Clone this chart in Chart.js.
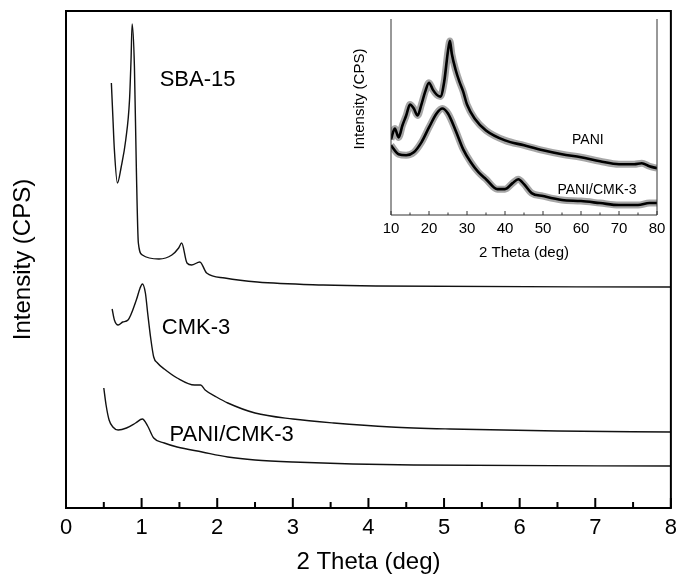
<!DOCTYPE html>
<html>
<head>
<meta charset="utf-8">
<script src="https://cdn.jsdelivr.net/npm/chart.js@4.4.1/dist/chart.umd.min.js"></script>
<style>
  html, body { margin: 0; padding: 0; background: #fff; }
  #wrap { position: relative; width: 684px; height: 574px; }
  #main { position: absolute; left: 0; top: 0; }
  #inset { position: absolute; left: 335px; top: 10px; }
</style>
</head>
<body>
<div id="wrap">
  <canvas id="main" width="684" height="574"></canvas>
  <canvas id="inset" width="340" height="250"></canvas>
</div>
<script>
// main plot: low angle XRD (2 theta, offset intensity)
const sbaX = [0.60, 0.62, 0.64, 0.68, 0.73, 0.79, 0.84, 0.86, 0.875, 0.905, 0.93, 0.957, 1.01, 1.23, 1.40, 1.49, 1.53, 1.60, 1.66, 1.77, 1.86, 2.10, 2.53, 3.40, 4.10, 8.0];
const sbaY = [425, 391, 358, 325, 341, 368, 408, 448, 484, 441, 341, 265, 253, 249, 253, 260, 265, 245, 243, 246, 235, 230, 226, 223, 222, 221];

const cmkX = [0.61, 0.64, 0.69, 0.75, 0.82, 0.93, 0.98, 1.01, 1.05, 1.08, 1.12, 1.16, 1.21, 1.30, 1.47, 1.70, 1.78, 1.84, 1.99, 2.14, 2.5, 3.0, 3.54, 4.3, 5.08, 6.5, 8.0];
const cmkY = [199, 188, 183, 186, 188, 208, 220, 224, 215, 195, 170, 151, 145, 139, 130, 123, 123, 118, 111, 105, 95, 89, 85, 81, 79, 77, 76];

const paniCmkX = [0.50, 0.53, 0.57, 0.62, 0.69, 0.80, 0.92, 1.01, 1.08, 1.16, 1.30, 1.47, 1.8, 2.14, 2.5, 3.0, 4.6, 8.0];
const paniCmkY = [120, 103, 88, 81, 78, 80, 85, 89, 82, 70, 65, 61, 56, 51, 48, 46, 43, 42];

// inset: wide angle XRD
const paniX = [10, 11, 12, 13, 14, 15, 16, 17, 18, 19, 20, 21, 22, 23, 24, 25, 25.5, 26, 27, 28, 29, 30, 32, 35, 40, 45, 50, 55, 60, 65, 70, 74, 76, 78, 80];
const paniY = [76, 87, 78, 90, 100, 111, 107, 100, 111, 124, 133, 126, 121, 119, 134, 165, 175, 162, 146, 134, 124, 111, 97, 85, 75, 70, 65, 61, 58, 54, 51, 51, 52, 49, 47];

const compX = [10, 12, 14, 16, 18, 20, 22, 23.5, 25, 27, 29, 31, 33, 35, 38, 40, 42, 43.5, 45, 47, 50, 55, 60, 65, 70, 75, 78, 80];
const compY = [70, 61, 60, 63, 73, 88, 102, 107, 102, 85, 66, 53, 43, 36, 26, 26, 32, 36, 31, 22, 19, 15, 14, 12, 10, 10, 12, 12];

const mainTicks = [0, 1, 2, 3, 4, 5, 6, 7, 8];
const insetTicks = [10, 20, 30, 40, 50, 60, 70, 80];

const toPoints = (xs, ys) => xs.map((x, i) => ({x: x, y: ys[i]}));
const FONT = 'Arial, "Liberation Sans", Helvetica, sans-serif';

// draws the frame, inward ticks and the text labels
const framePlugin = {
  id: 'frame',
  afterDraw(chart, args, o) {
    const {ctx, chartArea: a} = chart;
    const x = chart.scales.x, y = chart.scales.y;
    ctx.save();
    ctx.strokeStyle = o.color;
    ctx.lineWidth = o.lineWidth;
    ctx.beginPath();
    if (o.box) {
      ctx.rect(a.left, a.top, a.right - a.left, a.bottom - a.top);
    } else {
      ctx.moveTo(a.left, a.top);
      ctx.lineTo(a.left, a.bottom);
      ctx.lineTo(a.right, a.bottom);
      ctx.lineTo(a.right, a.top);
    }
    ctx.stroke();

    ctx.lineWidth = o.tickWidth;
    ctx.beginPath();
    for (let v = x.min; v <= x.max + 1e-9; v += o.minorStep) {
      const px = x.getPixelForValue(v);
      const r = v / o.majorStep;
      const len = Math.abs(r - Math.round(r)) < 1e-6 ? o.majorLen : o.minorLen;
      ctx.moveTo(px, a.bottom);
      ctx.lineTo(px, a.bottom - len);
    }
    ctx.stroke();

    ctx.fillStyle = '#000';
    ctx.textAlign = 'center';
    ctx.textBaseline = 'middle';
    (o.labels || []).forEach(l => {
      ctx.font = l.size + 'px ' + FONT;
      ctx.fillText(l.text, x.getPixelForValue(l.x), y.getPixelForValue(l.y));
    });
    if (o.yTitle) {
      ctx.translate(o.yTitle.px, o.yTitle.py);
      ctx.rotate(-Math.PI / 2);
      ctx.font = o.yTitle.size + 'px ' + FONT;
      ctx.fillText(o.yTitle.text, 0, 0);
    }
    ctx.restore();
  }
};

const lineSet = (pts, width, color, smooth) => ({
  data: pts,
  borderColor: color,
  borderWidth: width,
  pointRadius: 0,
  fill: false,
  cubicInterpolationMode: smooth ? 'monotone' : 'default',
  tension: 0
});

const mainChart = new Chart(document.getElementById('main'), {
  type: 'line',
  data: {
    datasets: [
      lineSet(toPoints(sbaX, sbaY), 1.4, '#111', true),
      lineSet(toPoints(cmkX, cmkY), 1.4, '#111', true),
      lineSet(toPoints(paniCmkX, paniCmkY), 1.4, '#111', true)
    ]
  },
  options: {
    responsive: false,
    animation: false,
    events: [],
    layout: { padding: { top: 11, right: 5, left: 0, bottom: 0 } },
    plugins: {
      legend: { display: false },
      tooltip: { enabled: false },
      frame: {
        box: true, color: '#000', lineWidth: 2, tickWidth: 2,
        majorStep: 1, minorStep: 0.5, majorLen: 10, minorLen: 6,
        labels: [
          {text: 'SBA-15', x: 1.74, y: 428, size: 22},
          {text: 'CMK-3', x: 1.72, y: 180, size: 22},
          {text: 'PANI/CMK-3', x: 2.19, y: 73, size: 22}
        ]
      }
    },
    scales: {
      x: {
        type: 'linear', min: 0, max: 8,
        afterBuildTicks: s => { s.ticks = mainTicks.map(v => ({value: v})); },
        afterFit: s => { s.height = 66; },
        grid: { display: false, drawTicks: false },
        border: { display: false },
        ticks: { color: '#000', padding: 7, font: { size: 22, family: FONT } },
        title: { display: true, text: '2 Theta (deg)', color: '#000', padding: 0,
                 font: { size: 24, family: FONT, lineHeight: 1 } }
      },
      y: {
        type: 'linear', min: 0, max: 497,
        afterFit: s => { s.width = 66; },
        grid: { display: false, drawTicks: false },
        border: { display: false },
        ticks: { display: false },
        title: { display: true, text: 'Intensity (CPS)', color: '#000', padding: { top: 11, bottom: 0 },
                 font: { size: 24, family: FONT, lineHeight: 1 } }
      }
    }
  },
  plugins: [framePlugin]
});

const insetChart = new Chart(document.getElementById('inset'), {
  type: 'line',
  data: {
    datasets: [
      lineSet(toPoints(paniX, paniY), 7, 'rgba(0,0,0,0.35)', true),
      lineSet(toPoints(paniX, paniY), 2.6, '#000', true),
      lineSet(toPoints(compX, compY), 7, 'rgba(0,0,0,0.35)', true),
      lineSet(toPoints(compX, compY), 2.6, '#000', true)
    ]
  },
  options: {
    responsive: false,
    animation: false,
    events: [],
    layout: { padding: { top: 9, right: 18, left: 0, bottom: 0 } },
    plugins: {
      legend: { display: false },
      tooltip: { enabled: false },
      frame: {
        box: false, color: '#333', lineWidth: 1, tickWidth: 1,
        majorStep: 10, minorStep: 5, majorLen: 4, minorLen: 2.5,
        labels: [
          {text: 'PANI', x: 61.8, y: 75, size: 14},
          {text: 'PANI/CMK-3', x: 64.2, y: 25, size: 14}
        ],
        yTitle: {text: 'Intensity (CPS)', px: 25, py: 89, size: 15}
      }
    },
    scales: {
      x: {
        type: 'linear', min: 10, max: 80,
        afterBuildTicks: s => { s.ticks = insetTicks.map(v => ({value: v})); },
        afterFit: s => { s.height = 45; },
        grid: { display: false, drawTicks: false },
        border: { display: false },
        ticks: { color: '#000', padding: 5, font: { size: 15, family: FONT } },
        title: { display: true, text: '2 Theta (deg)', color: '#000', padding: 0,
                 font: { size: 15, family: FONT, lineHeight: 1 } }
      },
      y: {
        type: 'linear', min: 0, max: 197,
        afterFit: s => { s.width = 56; },
        grid: { display: false, drawTicks: false },
        border: { display: false },
        ticks: { display: false }
      }
    }
  },
  plugins: [framePlugin]
});
</script>
</body>
</html>
